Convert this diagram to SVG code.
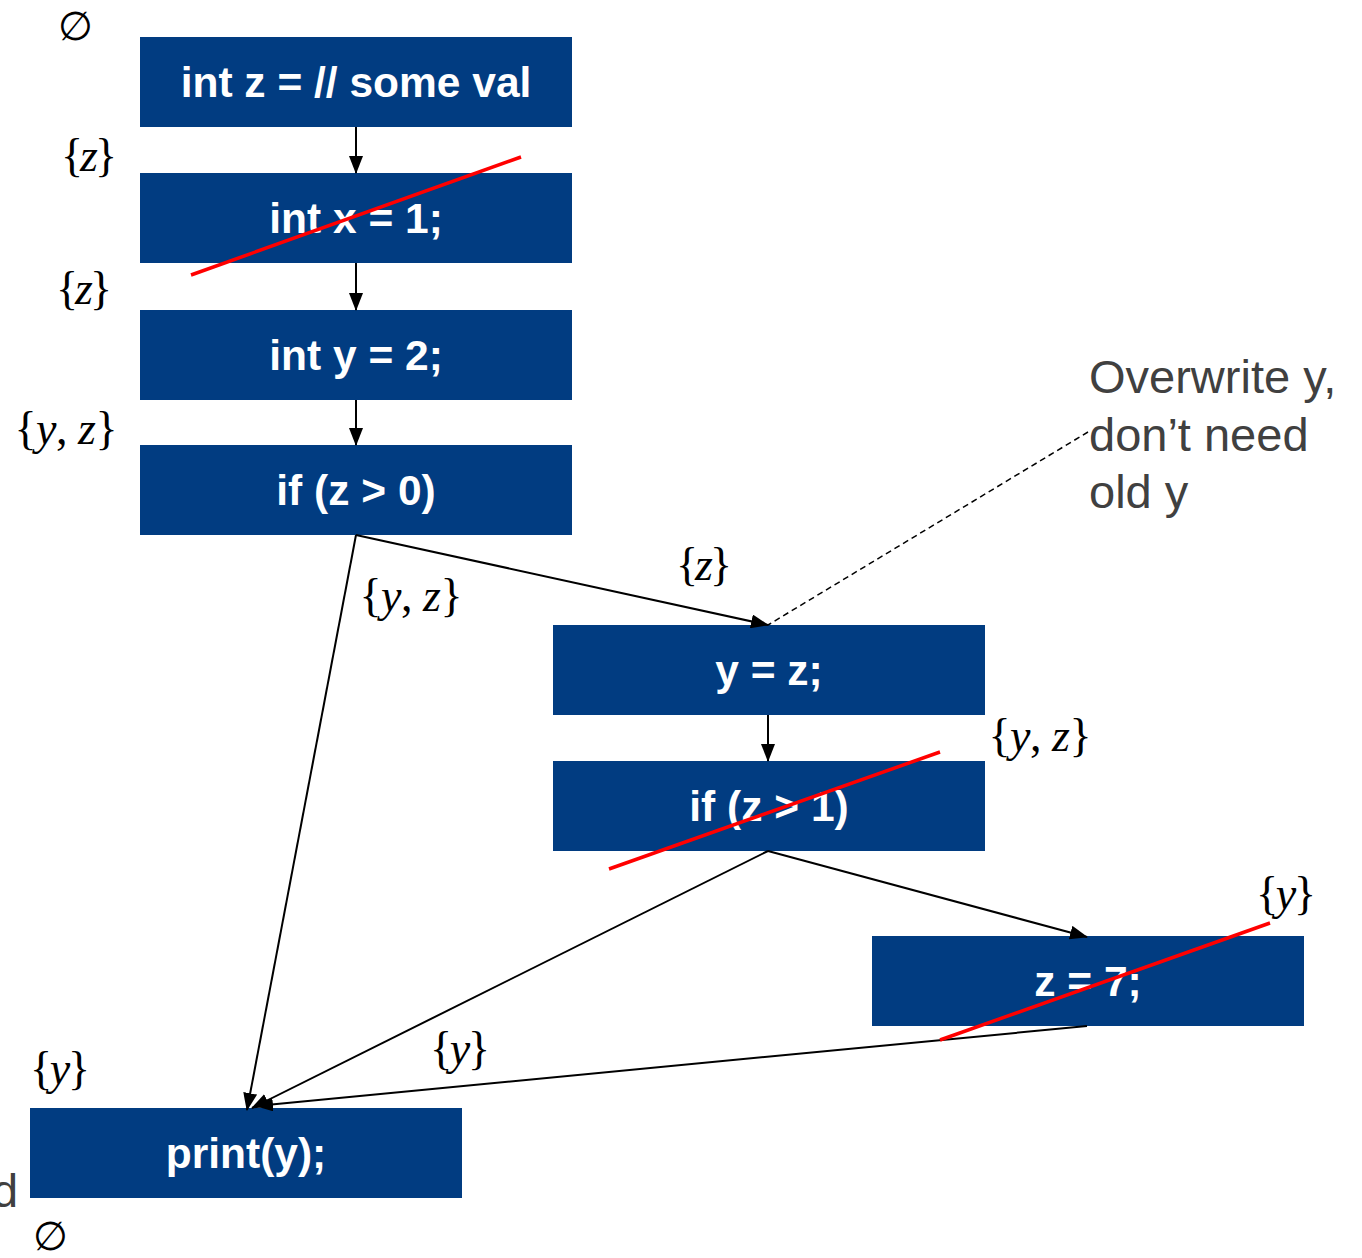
<svg xmlns="http://www.w3.org/2000/svg" width="1362" height="1258" viewBox="0 0 1362 1258">
<style>
.box{fill:#013C81}
.bt{font-family:"Liberation Sans",Arial,sans-serif;font-weight:bold;font-size:42.5px;fill:#ffffff;text-anchor:middle}
.m{font-family:"Liberation Serif","DejaVu Serif",serif;font-size:46px;fill:#000000;text-anchor:middle}
.e{font-family:"DejaVu Serif","Liberation Serif",serif;font-size:40px;fill:#000000;text-anchor:middle}
.i{font-style:italic}
.note{font-family:"Liberation Sans",Arial,sans-serif;font-size:47px;fill:#404040}
.c{stroke:#000000;stroke-width:2;fill:none}
.d{stroke:#000000;stroke-width:1.5;fill:none;stroke-dasharray:6 4}
.x{stroke:#FF0000;stroke-width:3.5;fill:none}
</style>
<defs>
<marker id="ah" markerUnits="userSpaceOnUse" markerWidth="18" markerHeight="14" refX="17" refY="7" orient="auto">
<path d="M0,0 L18,7 L0,14 z" fill="#000000"/>
</marker>
</defs>
<rect width="1362" height="1258" fill="#ffffff"/>

<g id="n1"><rect class="box" x="140" y="37" width="432" height="90"/><text class="bt" x="356" y="97">int z = // some val</text></g>
<g id="n2"><rect class="box" x="140" y="173" width="432" height="90"/><text class="bt" x="356" y="233">int x = 1;</text></g>
<g id="n3"><rect class="box" x="140" y="310" width="432" height="90"/><text class="bt" x="356" y="370">int y = 2;</text></g>
<g id="n4"><rect class="box" x="140" y="445" width="432" height="90"/><text class="bt" x="356" y="505">if (z &gt; 0)</text></g>
<g id="n5"><rect class="box" x="553" y="625" width="432" height="90"/><text class="bt" x="769" y="685">y = z;</text></g>
<g id="n6"><rect class="box" x="553" y="761" width="432" height="90"/><text class="bt" x="769" y="821">if (z &gt; 1)</text></g>
<g id="n7"><rect class="box" x="872" y="936" width="432" height="90"/><text class="bt" x="1088" y="996">z = 7;</text></g>
<g id="n8"><rect class="box" x="30" y="1108" width="432" height="90"/><text class="bt" x="246" y="1168">print(y);</text></g>

<g id="connectors">
<path class="c" d="M356,127 L356,173" marker-end="url(#ah)"/>
<path class="c" d="M356,263 L356,310" marker-end="url(#ah)"/>
<path class="c" d="M356,400 L356,445" marker-end="url(#ah)"/>
<path class="c" d="M356,535 L768,625" marker-end="url(#ah)"/>
<path class="c" d="M356,535 L247,1110" marker-end="url(#ah)"/>
<path class="c" d="M768,715 L768,761" marker-end="url(#ah)"/>
<path class="c" d="M768,851 L1087,937" marker-end="url(#ah)"/>
<path class="c" d="M768,851 L252,1108" marker-end="url(#ah)"/>
<path class="c" d="M1087,1026 L256,1106" marker-end="url(#ah)"/>
<path class="d" d="M1088,432 L768,625"/>
</g>

<g id="strikes">
<line class="x" x1="191" y1="275" x2="521" y2="157"/>
<line class="x" x1="609" y1="869" x2="940" y2="752"/>
<line class="x" x1="940" y1="1040" x2="1270" y2="923"/>
</g>

<g id="labels">
<text class="e" x="75" y="40">∅</text>
<text class="m" x="89" y="171" textLength="56" lengthAdjust="spacing">{<tspan class="i">z</tspan>}</text>
<text class="m" x="84" y="304" textLength="56" lengthAdjust="spacing">{<tspan class="i">z</tspan>}</text>
<text class="m" x="66" y="444" textLength="103" lengthAdjust="spacing">{<tspan class="i">y</tspan>, <tspan class="i">z</tspan>}</text>
<text class="m" x="411" y="611" textLength="103" lengthAdjust="spacing">{<tspan class="i">y</tspan>, <tspan class="i">z</tspan>}</text>
<text class="m" x="704" y="580" textLength="56" lengthAdjust="spacing">{<tspan class="i">z</tspan>}</text>
<text class="m" x="1040" y="751" textLength="103" lengthAdjust="spacing">{<tspan class="i">y</tspan>, <tspan class="i">z</tspan>}</text>
<text class="m" x="1286" y="909" textLength="60" lengthAdjust="spacing">{<tspan class="i">y</tspan>}</text>
<text class="m" x="460" y="1064" textLength="60" lengthAdjust="spacing">{<tspan class="i">y</tspan>}</text>
<text class="m" x="60" y="1084" textLength="60" lengthAdjust="spacing">{<tspan class="i">y</tspan>}</text>
<text class="e" x="50" y="1250">∅</text>
</g>

<g id="note">
<text class="note" x="1089" y="393">Overwrite y,</text>
<text class="note" x="1089" y="451">don’t need</text>
<text class="note" x="1089" y="508">old y</text>
<text class="note" x="-8" y="1207">d</text>
</g>
</svg>
